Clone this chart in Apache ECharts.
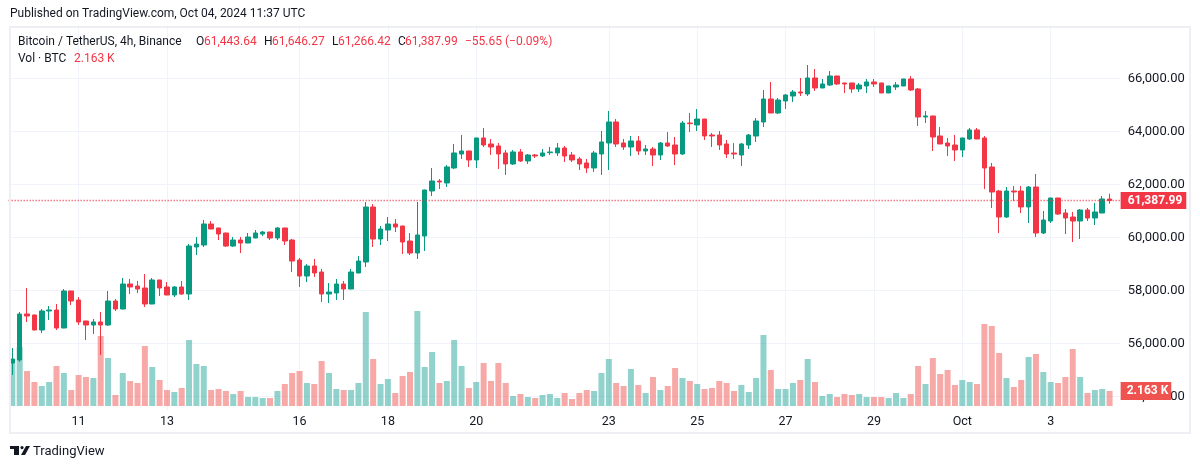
<!DOCTYPE html>
<html><head><meta charset="utf-8">
<style>html,body{margin:0;padding:0;background:#fff}#c{width:1200px;height:469px}</style>
<script src="https://cdn.jsdelivr.net/npm/echarts@6/dist/echarts.min.js"></script>
</head><body><div id="c"></div>
<script>
const tickIndex=[9,21,39,51,63,81,93,105,117,129,141];
const tickLabels=['11','13','16','18','20','23','25','27','29','Oct','3'];
const opens=[55256,55370,57106,57068,56502,57219,57257,56577,57974,57634,
56841,56690,56804,56690,57596,57294,58238,58162,58087,57483,
58389,58125,57823,58125,57860,59634,59709,60502,60351,60162,
59671,59898,59785,59973,60124,60200,59973,60351,59898,59143,
58539,58917,58690,57860,57898,58237,58049,58653,59068,61143,
59936,60275,60502,60426,59860,59407,60049,61748,62125,62050,
62616,63144,63257,62918,63748,63521,63446,63182,62767,63220,
62880,63106,63069,63194,63182,63370,63106,62955,62804,62616,
63144,63559,64352,63559,63408,63635,63257,63332,63106,63559,
63483,63143,64313,64238,64464,63860,63860,63521,63181,63106,
63483,63823,64351,65219,64691,65144,65332,65483,65408,66012,
65634,65747,66087,65823,65823,65597,65710,65861,65823,65446,
65672,65710,65974,65597,64540,64578,63823,63559,63483,63295,
63710,64050,63748,62653,61747,60766,61747,61747,61144,61898,
60162,60615,61483,60917,60766,60615,61030,60728,60917,61443.64];
const closes=[55407,57105,57030,56502,57219,57257,56577,57974,57596,56804,
56690,56804,56690,57596,57294,58238,58125,58049,57483,58389,
58087,57823,58125,57860,59672,59747,60502,60313,60124,59671,
59898,59785,60011,60162,60200,59973,60351,59860,59105,58539,
58917,58653,57860,57935,58237,58049,58690,59105,61143,59936,
60313,60502,60389,59823,59407,60087,61785,62125,62087,62654,
63182,63257,62918,63748,63484,63408,63144,62767,63220,62880,
63106,63069,63182,63220,63370,63069,62918,62767,62616,63182,
63597,64352,63521,63408,63635,63257,63333,63106,63559,63445,
63143,64313,64288,64464,63823,63823,63483,63143,63143,63521,
63860,64389,65219,64691,65181,65370,65483,65445,66012,65634,
65785,66087,65785,65785,65597,65747,65861,65786,65446,65710,
65748,65974,65559,64540,64578,63785,63521,63446,63295,63748,
64050,63710,62615,61710,60766,61747,61710,61144,61898,60162,
60653,61483,60879,60728,60615,61030,60728,60955,61446,61387.99];
const highs=[55822,57181,58087,57080,57294,57408,57483,58049,57980,57747,
56850,56917,57181,57974,57672,58464,58427,58351,58615,58464,
58395,58313,58162,58351,59747,60012,60653,60615,60360,60170,
60011,60011,60162,60275,60238,60210,60389,60360,59936,59219,
58992,59181,58804,58275,58426,58351,58804,59294,61332,61257,
60426,60766,60691,60435,60162,61332,61800,62616,62200,62729,
63521,63861,63265,63755,64125,63710,63559,63295,63295,63333,
63144,63144,63333,63408,63559,63446,63220,63031,62955,63257,
64012,64767,64465,63710,63823,63823,63484,63408,63596,63974,
63785,64389,64691,64842,64470,63936,64011,63672,63559,63559,
63898,64502,65559,65861,65257,65408,65559,66012,66502,66351,
65974,66276,66095,65830,65830,65823,65974,65974,65828,65715,
65861,65980,66088,65635,64767,64585,64163,63748,63861,63755,
64125,64125,63823,62804,61785,61898,61936,61936,61936,62389,
60993,61490,61490,61068,60955,61068,61106,61295,61559,61646.27];
const lows=[54803,55300,56804,56490,56389,56879,56502,56570,57445,56690,
56124,56351,55558,56653,57219,57285,57860,57898,57370,57475,
57785,57815,57747,57823,57634,59332,59634,60305,59898,59634,
59634,59407,59780,59965,60049,59898,59898,59709,58690,58124,
58313,58502,57558,57520,57634,57634,58040,58645,58879,59634,
59709,59860,60200,59370,59332,59181,59483,61559,61823,61899,
62578,62955,62653,62616,63408,63106,62578,62352,62729,62842,
62767,62993,63031,63106,63069,62842,62842,62540,62427,62465,
62352,62540,63408,63295,63069,63106,63106,62691,62917,63408,
62728,63106,63974,64011,63672,63408,63294,62992,62955,62691,
63332,63596,64162,64685,64653,64842,65106,65332,65332,65521,
65630,65710,65747,65446,65446,65483,65446,65672,65441,65441,
65559,65705,65521,64200,64314,63257,63515,63068,62880,63031,
63672,63705,61823,61106,60162,60728,61370,60917,60540,60011,
60125,60540,60842,60125,59823,59936,60615,60464,60910,61266.42];
const volumes=[6768,8496,5040,3456,2880,3456,5760,4752,2304,4464,
4176,4032,10080,6912,1584,4752,3600,3312,8640,5616,
3744,2304,2016,2592,9504,6048,5760,2304,2448,2160,
1728,2160,1296,1296,1152,1152,2160,3168,4752,5040,
3312,3168,6480,4752,2448,2304,2304,3312,13536,6768,
3168,3888,1872,4320,4896,13680,5616,7776,3312,3600,
9504,5760,2592,3456,6192,3600,6192,3312,1440,1728,
1296,1152,1584,1728,1152,1872,1008,1872,2304,2160,
4752,6768,3312,2880,5328,3024,1872,4176,2304,2880,
5472,4032,3600,3168,2448,2592,3600,3312,2160,3024,
2016,4032,10224,5184,2448,2448,3312,3744,6768,3456,
1440,1728,1296,1728,1584,1728,1296,1296,1296,1152,
1872,1152,1728,5760,3168,6912,4608,5184,3024,3744,
3456,3168,11808,11520,7632,4032,2736,3744,7056,7488,
4896,3456,3312,4176,8208,4176,1872,2304,2448,2163];
const lastClose=61387.99, lastVolume=2163;

const UP='#089981',DOWN='#f23645',GRID='#f0f3fa',TXT='#131722',FRAME='#eeeff5';
const FONT='Roboto,"Noto Sans",sans-serif';
const categories=opens.map((_,i)=>'b'+i).concat(['']);
const isTick=i=>tickIndex.includes(i);
const candleData=opens.map((o,i)=>[o,closes[i],lows[i],highs[i]]);
const volData=volumes.map((v,i)=>({value:v,itemStyle:{color:closes[i]>=opens[i]?'rgba(38,166,154,0.5)':'rgba(239,83,80,0.5)'}}));
const fmtPrice=v=>v.toLocaleString('en-US',{minimumFractionDigits:2,maximumFractionDigits:2});

function t(x,y,text,fill,size){return {type:'text',left:x,top:y,z:50,silent:true,style:{text:text,fill:fill||TXT,font:(size||12)+'px '+FONT}};}

const chart=echarts.init(document.getElementById('c'),null,{renderer:'canvas'});
chart.setOption({
 animation:false,backgroundColor:'#fff',
 grid:[
  {left:8.64,width:1112,top:25.3,height:371},
  {left:8.64,width:1112,top:300,height:110}
 ],
 xAxis:[
  {type:'category',gridIndex:0,data:categories,boundaryGap:true,axisLine:{show:false},axisTick:{show:false},axisLabel:{show:false},
   splitLine:{show:true,alignWithLabel:true,interval:i=>isTick(i),lineStyle:{color:GRID,width:1}}},
  {type:'category',gridIndex:1,data:categories,boundaryGap:true,axisLine:{show:false},axisTick:{show:false},
   axisLabel:{show:true,interval:i=>isTick(i),formatter:(v,i)=>tickLabels[tickIndex.indexOf(i)]||'',color:TXT,fontFamily:FONT,fontSize:12.5,margin:5},
   splitLine:{show:true,alignWithLabel:true,interval:i=>isTick(i),lineStyle:{color:GRID,width:1}}}
 ],
 yAxis:[
  {type:'value',gridIndex:0,position:'right',min:54000,max:68000,interval:2000,axisLine:{show:false},axisTick:{show:false},
   axisLabel:{color:TXT,fontFamily:FONT,fontSize:13,margin:7,showMaxLabel:false,formatter:fmtPrice},
   splitLine:{show:true,showMaxLine:false,lineStyle:{color:GRID,width:1}}},
  {type:'value',gridIndex:1,min:-576,max:15264,show:false,splitLine:{show:false}}
 ],
 series:[
  {type:'bar',name:'Vol',xAxisIndex:1,yAxisIndex:1,data:volData,barWidth:6,z:2,
   markLine:{silent:true,symbol:'none',z:30,lineStyle:{color:'rgba(0,0,0,0)',width:1},
    label:{show:true,position:'end',distance:0,formatter:()=>'2.163 K',color:'#fff',backgroundColor:'#ef5350',fontFamily:FONT,fontSize:12,fontWeight:'bold',padding:[3,3,3,6]},
    data:[{yAxis:lastVolume}]}},
  {type:'candlestick',name:'BTC',xAxisIndex:0,yAxisIndex:0,data:candleData,barWidth:5,z:3,
   itemStyle:{color:UP,color0:DOWN,borderColor:UP,borderColor0:DOWN,borderWidth:1},
   markLine:{silent:true,symbol:'none',z:30,lineStyle:{color:DOWN,type:[1,2],width:1.3},
    label:{position:'end',distance:0,formatter:()=>fmtPrice(lastClose),color:'#fff',backgroundColor:DOWN,fontFamily:FONT,fontSize:12,fontWeight:'bold',padding:[3,4,2,7]},
    data:[{yAxis:lastClose}]}}
 ],
 graphic:[
  {type:'rect',z:40,silent:true,shape:{x:10,y:27,width:1180,height:406},style:{fill:'none',stroke:FRAME,lineWidth:2}},
  t(10,8,'Published on TradingView.com, Oct 04, 2024 11:37 UTC'),
  t(18,36,'Bitcoin / TetherUS, 4h, Binance'),
  t(196,36,'O'),t(204,36,'61,443.64',DOWN),
  t(264,36,'H'),t(272,36,'61,646.27',DOWN),
  t(332,36,'L'),t(338,36,'61,266.42',DOWN),
  t(398,36,'C'),t(405,36,'61,387.99',DOWN),
  t(465,36,'\u221255.65 (\u22120.09%)',DOWN),
  t(18,53,'Vol \u00b7 BTC'),t(74,53,'2.163 K',DOWN),
  {type:'group',left:10,top:446,z:50,silent:true,children:[
    {type:'rect',shape:{x:0,y:0,width:9,height:3},style:{fill:TXT}},
    {type:'rect',shape:{x:4,y:0,width:5,height:9},style:{fill:TXT}},
    {type:'circle',shape:{cx:12,cy:1.6,r:1.6},style:{fill:TXT}},
    {type:'polygon',shape:{points:[[16,0],[20,0],[15,9],[11,9]]},style:{fill:TXT}}
  ]},
  t(33,445,'TradingView',TXT,13)
 ]
});
</script></body></html>
